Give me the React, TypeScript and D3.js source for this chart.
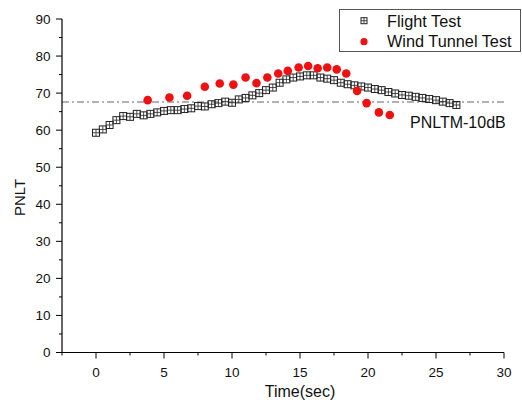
import React from "react";
import * as d3 from "d3";

const flightTime: number[] = [
  0, 0.5, 1, 1.5, 2, 2.5, 3, 3.5, 4, 4.5, 5, 5.5, 6, 6.5, 7, 7.5, 8, 8.5, 9, 9.5,
  10, 10.5, 11, 11.5, 12, 12.5, 13, 13.5, 14, 14.5, 15, 15.5, 16, 16.5, 17, 17.5,
  18, 18.5, 19, 19.5, 20, 20.5, 21, 21.5, 22, 22.5, 23, 23.5, 24, 24.5, 25, 25.5,
  26, 26.5,
];
const flightPNLT: number[] = [
  59.3, 60.2, 61.4, 62.7, 63.8, 63.6, 64.4, 64.0, 64.4, 64.8, 65.2, 65.4, 65.4,
  65.7, 65.9, 66.5, 66.4, 67.0, 67.3, 67.7, 67.4, 68.3, 68.7, 69.4, 70.0, 70.8,
  71.5, 72.8, 73.7, 74.2, 74.5, 74.8, 74.8, 74.2, 73.9, 73.5, 72.8, 72.4, 72.1,
  71.8, 71.5, 71.1, 70.8, 70.3, 69.9, 69.5, 69.3, 69.0, 68.7, 68.4, 68.1, 67.7,
  67.3, 66.8,
];
const windTime: number[] = [
  3.8, 5.4, 6.7, 8.0, 9.1, 10.1, 11.0, 11.8, 12.6, 13.4, 14.1, 14.9, 15.6, 16.3,
  17.0, 17.7, 18.4, 19.2, 19.9, 20.8, 21.6,
];
const windPNLT: number[] = [
  68.1, 68.8, 69.3, 71.7, 72.6, 72.3, 74.2, 72.7, 74.2, 75.3, 76.0, 76.9, 77.3,
  76.7, 76.9, 76.4, 75.3, 70.6, 67.3, 64.8, 64.1,
];
const xTicks: number[] = [0, 5, 10, 15, 20, 25, 30];
const yTicks: number[] = [0, 10, 20, 30, 40, 50, 60, 70, 80, 90];
const refLevel = 67.6;
const refLabel = "PNLTM-10dB";
const seriesNames: string[] = ["Flight Test", "Wind Tunnel Test"];
const xTitle = "Time(sec)";
const yTitle = "PNLT";

const W = 522;
const H = 406;
const FONT = "'Liberation Sans', Arial, sans-serif";

export default function App() {
  const x = d3.scaleLinear().domain([-2.5, 30]).range([62, 504]);
  const y = d3.scaleLinear().domain([0, 90]).range([352.5, 19]);
  const xMinor = d3.range(-2.5, 30.01, 2.5).filter((v) => !xTicks.includes(v));
  const yMinor = d3.range(5, 90, 10);
  const sq = 3.5;

  const square = (cx: number, cy: number, s: number, key: string | number) => (
    <g key={key}>
      <rect x={cx - s} y={cy - s} width={2 * s} height={2 * s} fill="none" stroke="#222" strokeWidth={1} />
      <line x1={cx - s} x2={cx + s} y1={cy} y2={cy} stroke="#222" strokeWidth={0.8} />
      <line x1={cx} x2={cx} y1={cy - s} y2={cy + s} stroke="#222" strokeWidth={0.8} />
    </g>
  );

  return (
    <svg width={W} height={H} style={{ position: "absolute", left: 0, top: 0, background: "#fff" }} fontFamily={FONT}>
      <rect width={W} height={H} fill="#fff" />
      {/* reference line */}
      <line x1={x(-2.5)} x2={x(30)} y1={y(refLevel)} y2={y(refLevel)} stroke="#999" strokeWidth={1.5} strokeDasharray="7 3 2 3" />
      <text x={410} y={128} fontSize={16} fill="#111">{refLabel}</text>

      {/* axes */}
      <line x1={x(-2.5)} x2={x(-2.5)} y1={y(0)} y2={y(90)} stroke="#000" strokeWidth={1.2} />
      <line x1={x(-2.5)} x2={x(30)} y1={y(0)} y2={y(0)} stroke="#000" strokeWidth={1.2} />
      {yTicks.map((t) => (
        <g key={"y" + t}>
          <line x1={x(-2.5) - 6} x2={x(-2.5)} y1={y(t)} y2={y(t)} stroke="#000" strokeWidth={1} />
          <text x={50.5} y={y(t)} dy="0.35em" textAnchor="end" fontSize={13.5} fill="#111">{t}</text>
        </g>
      ))}
      {yMinor.map((t) => (
        <line key={"ym" + t} x1={x(-2.5) - 3} x2={x(-2.5)} y1={y(t)} y2={y(t)} stroke="#000" strokeWidth={1} />
      ))}
      {xTicks.map((t) => (
        <g key={"x" + t}>
          <line x1={x(t)} x2={x(t)} y1={y(0)} y2={y(0) + 6} stroke="#000" strokeWidth={1} />
          <text x={x(t)} y={377} textAnchor="middle" fontSize={13.5} fill="#111">{t}</text>
        </g>
      ))}
      {xMinor.map((t) => (
        <line key={"xm" + t} x1={x(t)} x2={x(t)} y1={y(0)} y2={y(0) + 3} stroke="#000" strokeWidth={1} />
      ))}
      <text x={x(15)} y={397} textAnchor="middle" fontSize={16} fill="#111">{xTitle}</text>
      <text transform={`translate(25,197.5) rotate(-90)`} textAnchor="middle" fontSize={15} fill="#111">{yTitle}</text>

      {/* flight test */}
      {flightTime.map((t, i) => square(x(t), y(flightPNLT[i]), sq, "f" + i))}
      {/* wind tunnel */}
      {windTime.map((t, i) => (
        <circle key={"w" + i} cx={x(t)} cy={y(windPNLT[i])} r={4.3} fill="#ee1111" />
      ))}

      {/* legend */}
      <rect x={339.5} y={9.5} width={181} height={42} fill="#fff" stroke="#555" strokeWidth={1} />
      {square(364, 20.7, 3, "lg")}
      <circle cx={364} cy={41.7} r={3.6} fill="#ee1111" />
      <text x={387} y={26.7} fontSize={16.3} fill="#111">{seriesNames[0]}</text>
      <text x={387} y={46.7} fontSize={16.3} fill="#111">{seriesNames[1]}</text>
    </svg>
  );
}
